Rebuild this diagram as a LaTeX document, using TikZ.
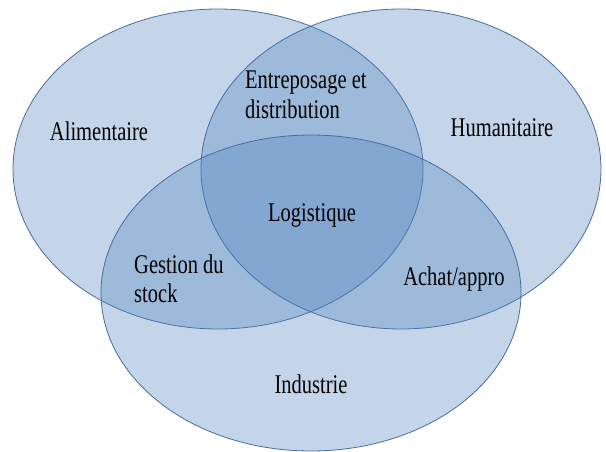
\documentclass[tikz,border=0pt]{standalone}
\usepackage{xcolor}
\usepackage{fontspec}
\setmainfont{Liberation Serif}[FakeStretch=0.76]
\usepackage{tikz}
\definecolor{vennfill}{RGB}{79,129,189}
\definecolor{vennline}{RGB}{70,108,160}

\begin{document}
\begin{tikzpicture}[x=1pt,y=-1pt,
  venn/.style={draw=vennline,line width=0.8pt,fill=vennfill,fill opacity=0.33},
  label/.style={inner sep=0pt,font=\fontsize{27}{30}\selectfont}]

  \useasboundingbox (0,0) rectangle (606,452);

  \draw[venn] (218,169) ellipse[x radius=205pt,y radius=160pt];
  \draw[venn] (401,169) ellipse[x radius=200pt,y radius=160pt];
  \draw[venn] (311,293) ellipse[x radius=210pt,y radius=158pt];

  \node[label,anchor=base] (alim) at (99,141) {Alimentaire};
  \node[label,anchor=base] (huma) at (502,137) {Humanitaire};
  \node[label,anchor=base] (indu) at (311,393) {Industrie};
  \node[label,anchor=base] (logi) at (312,222) {Logistique};
  \node[label,anchor=base] (acha) at (454,285) {Achat/appro};
  \node[label,anchor=base west] (entr) at (245,89) {Entreposage et};
  \node[label,anchor=base west] (dist) at (245,118) {distribution};
  \node[label,anchor=base west] (gest) at (134,273) {Gestion du};
  \node[label,anchor=base west] (stoc) at (134,302) {stock};

\end{tikzpicture}
\end{document}
